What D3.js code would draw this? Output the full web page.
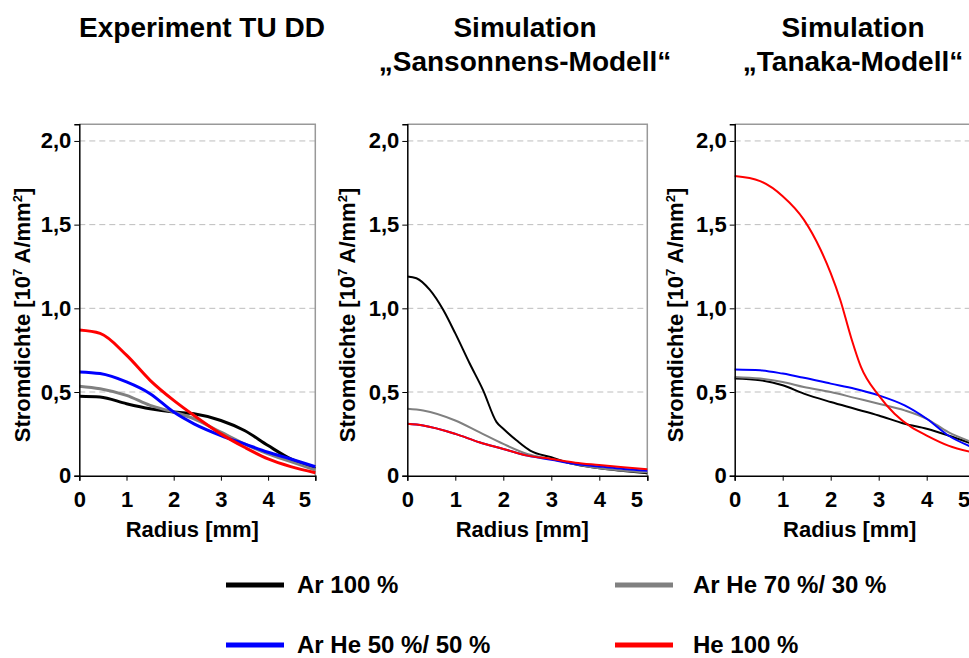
<!DOCTYPE html>
<html>
<head>
<meta charset="utf-8">
<script src="https://cdn.jsdelivr.net/npm/d3@7"></script>
<style>
  body { margin: 0; background: #fff; }
  text { font-family: "Liberation Sans", Arial, sans-serif; font-weight: bold; fill: #000; }
</style>
</head>
<body>
<svg id="svg"></svg>
<script>
var width = 969, height = 658;

// series names and colours
var seriesNames = ["Ar 100 %", "Ar He 70 %/ 30 %", "Ar He 50 %/ 50 %", "He 100 %"];
var seriesColors = ["#000000", "#808080", "#0000ff", "#ff0000"];

// panel titles
var titles = [["Experiment TU DD"], ["Simulation", "\u201ESansonnens-Modell\u201C"], ["Simulation", "\u201ETanaka-Modell\u201C"]];

var xTicks = [0, 1, 2, 3, 4, 5];
var yTicks = [0, 0.5, 1.0, 1.5, 2.0];

// Experiment TU DD
var radiusExp = [0, 0.44, 1, 1.5, 2, 2.43, 3, 3.5, 4, 4.48, 5];
var expAr100 = [0.475, 0.47, 0.43, 0.40, 0.38, 0.37, 0.33, 0.27, 0.18, 0.10, 0.044];
var expAr70 = [0.535, 0.52, 0.48, 0.42, 0.38, 0.34, 0.26, 0.19, 0.13, 0.084, 0.034];
var expAr50 = [0.62, 0.61, 0.56, 0.49, 0.38, 0.31, 0.24, 0.19, 0.14, 0.10, 0.054];
var expHe100 = [0.87, 0.85, 0.72, 0.57, 0.45, 0.36, 0.25, 0.17, 0.10, 0.054, 0.018];

// Simulation Sansonnens
var radiusSan = [0, 0.19, 0.47, 0.75, 1, 1.3, 1.58, 1.86, 2, 2.28, 2.56, 3, 3.39, 4, 4.5, 5];
var sanAr100 = [1.19, 1.18, 1.11, 0.99, 0.85, 0.67, 0.51, 0.32, 0.28, 0.21, 0.15, 0.11, 0.074, 0.044, 0.028, 0.014];
var radiusSan2 = [0, 0.33, 1, 1.5, 2, 2.5, 3, 3.5, 4, 4.5, 5];
var sanAr70 = [0.40, 0.39, 0.33, 0.26, 0.19, 0.13, 0.10, 0.068, 0.044, 0.03, 0.02];
var sanAr50 = [0.31, 0.30, 0.25, 0.20, 0.16, 0.12, 0.095, 0.07, 0.055, 0.04, 0.03];
var sanHe100 = [0.31, 0.30, 0.25, 0.20, 0.16, 0.12, 0.10, 0.078, 0.064, 0.05, 0.038];

// Simulation Tanaka
var radiusTan = [0, 0.53, 1, 1.44, 2, 2.5, 3, 3.54, 4, 4.45, 4.95];
var tanAr100 = [0.58, 0.57, 0.54, 0.49, 0.44, 0.40, 0.36, 0.31, 0.28, 0.24, 0.19];
var tanAr70 = [0.59, 0.58, 0.56, 0.53, 0.50, 0.465, 0.43, 0.39, 0.34, 0.26, 0.20];
var tanAr50 = [0.635, 0.63, 0.61, 0.585, 0.55, 0.52, 0.48, 0.42, 0.34, 0.24, 0.17];
var radiusTanHe = [0, 0.53, 1, 1.44, 1.79, 2, 2.2, 2.42, 2.63, 3, 3.33, 3.68, 4, 4.45, 4.95];
var tanHe100 = [1.79, 1.76, 1.67, 1.53, 1.35, 1.21, 1.05, 0.83, 0.65, 0.48, 0.37, 0.29, 0.24, 0.18, 0.14];

var panels = [
  { left: 79.3, w: 236, stroke: 3, labelX: 22, titleX: 202,
    series: [[radiusExp, expAr100], [radiusExp, expAr70], [radiusExp, expAr50], [radiusExp, expHe100]] },
  { left: 407.3, w: 240, stroke: 2, labelX: 347, titleX: 525,
    series: [[radiusSan, sanAr100], [radiusSan2, sanAr70], [radiusSan2, sanAr50], [radiusSan2, sanHe100]] },
  { left: 734.7, w: 240, stroke: 2, labelX: 675, titleX: 853,
    series: [[radiusTan, tanAr100], [radiusTan, tanAr70], [radiusTan, tanAr50], [radiusTanHe, tanHe100]] }
];

var svg = d3.select("#svg")
  .attr("width", width)
  .attr("height", height);

var y = d3.scaleLinear().domain([0, 2.1]).range([475.7, 124.2]);
var fmt = function(d) { return d === 0 ? "0" : d3.format(".1f")(d).replace(".", ","); };

panels.forEach(function(p, i) {
  var x = d3.scaleLinear().domain([0, 5]).range([p.left, p.left + p.w]);
  var g = svg.append("g");
  var right = p.left + p.w;

  // title
  titles[i].forEach(function(t, j) {
    g.append("text")
      .attr("x", p.titleX)
      .attr("y", 37 + j * 34)
      .attr("text-anchor", "middle")
      .style("font-size", "28px")
      .text(t);
  });

  // grid
  g.selectAll(".grid").data(yTicks.slice(1)).enter().append("line")
    .attr("x1", p.left).attr("x2", right)
    .attr("y1", function(d) { return y(d); }).attr("y2", function(d) { return y(d); })
    .attr("stroke", "#bdbdbd").attr("stroke-width", 1).attr("stroke-dasharray", "6,4");

  // frame: top and right gray
  g.append("path")
    .attr("d", "M" + p.left + "," + y(2.1) + "H" + right + "V" + y(0))
    .attr("fill", "none").attr("stroke", "#999").attr("stroke-width", 1.5);

  var line = d3.line()
    .x(function(d) { return x(d[0]); })
    .y(function(d) { return y(d[1]); })
    .curve(d3.curveMonotoneX);

  p.series.forEach(function(s, k) {
    g.append("path")
      .datum(d3.zip(s[0], s[1]))
      .attr("fill", "none")
      .attr("stroke", seriesColors[k])
      .attr("stroke-width", p.stroke)
      .attr("d", line);
  });

  // axes
  var xAxis = d3.axisBottom(x).tickValues(xTicks).tickSize(5).tickFormat(d3.format("d"));
  var yAxis = d3.axisLeft(y).tickValues(yTicks).tickSize(5).tickFormat(fmt);
  var gx = g.append("g").attr("transform", "translate(0," + y(0) + ")").call(xAxis);
  var gy = g.append("g").attr("transform", "translate(" + p.left + ",0)").call(yAxis);
  [gx, gy].forEach(function(a) {
    a.select(".domain").attr("stroke", "#000").attr("stroke-width", 1.5);
    a.selectAll(".tick line").attr("stroke", "#000");
    a.selectAll("text").style("font-size", "22px")
      .style("font-family", "Liberation Sans, Arial, sans-serif").style("font-weight", "bold");
  });
  gx.selectAll("text").attr("dy", null).attr("y", 31)
    .attr("x", function(d) { return d === 5 ? -11 : 0; });
  gy.selectAll("text").attr("x", -8);

  g.append("text")
    .attr("x", p.left + p.w / 2 - 5)
    .attr("y", 537)
    .attr("text-anchor", "middle")
    .style("font-size", "22px")
    .text("Radius [mm]");

  var yl = g.append("text")
    .attr("transform", "translate(" + (p.labelX + 8) + ",315) rotate(-90)")
    .attr("text-anchor", "middle")
    .style("font-size", "22px");
  yl.append("tspan").text("Stromdichte [10");
  yl.append("tspan").attr("dy", -8).style("font-size", "13px").text("7");
  yl.append("tspan").attr("dy", 8).text(" A/mm");
  yl.append("tspan").attr("dy", -8).style("font-size", "13px").text("2");
  yl.append("tspan").attr("dy", 8).text("]");
});

// legend
var legendX = [226, 615];
var legendY = [585, 645];
seriesNames.forEach(function(name, k) {
  var lx = legendX[k % 2], ly = legendY[Math.floor(k / 2)];
  svg.append("line")
    .attr("x1", lx).attr("x2", lx + 58)
    .attr("y1", ly).attr("y2", ly)
    .attr("stroke", seriesColors[k]).attr("stroke-width", 5);
  svg.append("text")
    .attr("x", lx + (k % 2 === 0 ? 71 : 78))
    .attr("y", ly + 8)
    .style("font-size", "24px")
    .text(name);
});
</script>
</body>
</html>
